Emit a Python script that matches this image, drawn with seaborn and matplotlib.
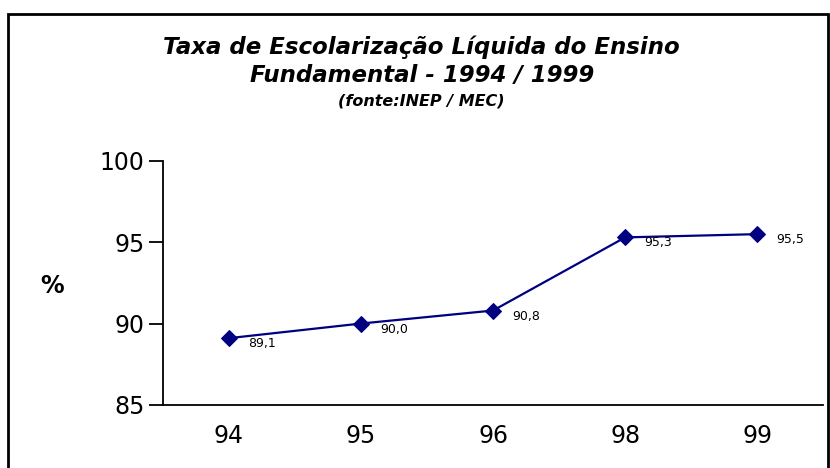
import matplotlib
matplotlib.use("Agg")
import matplotlib.pyplot as plt
from matplotlib.patches import Rectangle
import seaborn as sns
import pandas as pd

# ── Data ────────────────────────────────────────────────
anos    = ["94", "95", "96", "98", "99"]
taxa    = [89.1, 90.0, 90.8, 95.3, 95.5]
rotulos = ["89,1", "90,0", "90,8", "95,3", "95,5"]

df = pd.DataFrame({"Ano": anos, "Taxa": taxa})

sns.set_style("white")
plt.rcParams["font.family"] = ["DejaVu Sans"]
plt.rcParams["text.color"] = "black"
plt.rcParams["xtick.color"] = "black"
plt.rcParams["ytick.color"] = "black"
plt.rcParams["axes.labelcolor"] = "black"

NAVY = "#000080"

fig = plt.figure(figsize=(8.3, 4.68), dpi=100)
ax = fig.add_axes([0.196, 0.135, 0.796, 0.521])

sns.lineplot(data=df, x="Ano", y="Taxa", ax=ax, color=NAVY, linewidth=1.6,
             marker="D", markersize=8, markeredgecolor=NAVY, sort=False)

for i, (v, t) in enumerate(zip(taxa, rotulos)):
    ax.annotate(t, (i, v), xytext=(14, -4), textcoords="offset points",
                fontsize=9, ha="left", va="center", color="black")

ax.set_xlim(-0.5, 4.5)
ax.set_ylim(85, 100)
ax.set_yticks([85, 90, 95, 100])
ax.set_xlabel("")
ax.set_ylabel("")
fig.text(52 / 830, 1 - 286 / 468, "%", ha="center", va="center",
         fontsize=17, fontweight="bold")
ax.tick_params(axis="y", direction="out", length=10, width=1.3, labelsize=17, pad=3, left=True)
ax.tick_params(axis="x", length=0, labelsize=17, pad=14)
for s in ["top", "right"]:
    ax.spines[s].set_visible(False)
for s in ["left", "bottom"]:
    ax.spines[s].set_color("black")
    ax.spines[s].set_linewidth(1.3)

cx = 0.508
fig.text(cx, 1 - 47 / 468, "Taxa de Escolarização Líquida do Ensino",
         ha="center", va="center", fontsize=16.5, fontweight="bold", style="italic")
fig.text(cx, 1 - 75 / 468, "Fundamental - 1994 / 1999",
         ha="center", va="center", fontsize=16.5, fontweight="bold", style="italic")
fig.text(cx, 1 - 101 / 468, "(fonte:INEP / MEC)",
         ha="center", va="center", fontsize=11.5, fontweight="bold", style="italic")

# moldura
fig.patches.append(Rectangle((8 / 830, -0.05), 820 / 830, 1.05 - 14 / 468,
                             transform=fig.transFigure, fill=False,
                             edgecolor="black", linewidth=2))

fig.savefig("out.png", dpi=100)
